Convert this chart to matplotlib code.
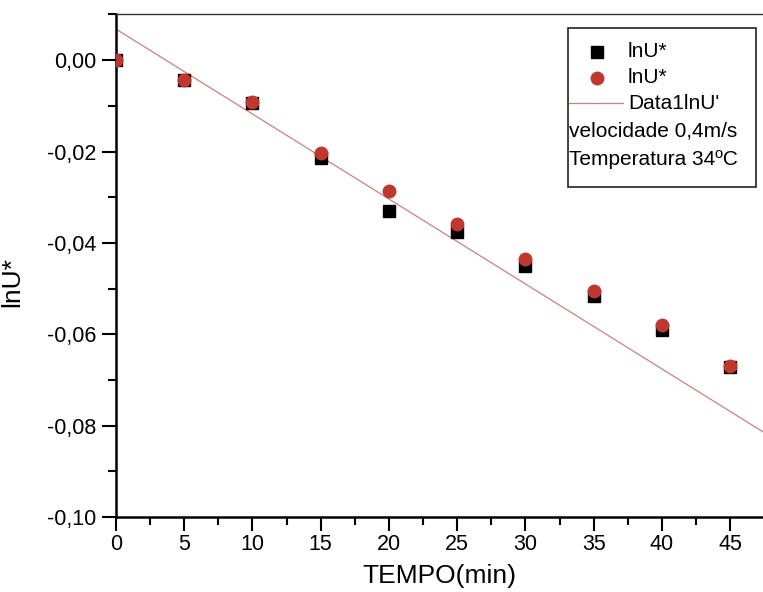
import matplotlib
matplotlib.use("Agg")
import matplotlib.pyplot as plt
import numpy as np
from matplotlib.ticker import MultipleLocator, FuncFormatter
from matplotlib.patches import Rectangle

plt.rcParams['font.family'] = ['Liberation Sans', 'DejaVu Sans']

# Drying data: time (min) and lnU* for the two runs
tempo = [0, 5, 10, 15, 20, 25, 30, 35, 40, 45]
lnu_run1 = [0.0, -0.0044, -0.0094, -0.0214, -0.0330, -0.0376, -0.0451, -0.0516, -0.0590, -0.0672]
lnu_run2 = [0.0, -0.0044, -0.0092, -0.0204, -0.0287, -0.0359, -0.0435, -0.0506, -0.0580, -0.0670]

# Linear fit "Data1lnU'"
fit_intercept = 0.0068
fit_slope = -0.00186

legend_labels = ["lnU*", "lnU*", "Data1lnU'"]
info_lines = ["velocidade 0,4m/s", "Temperatura 34ºC"]

x_max = 47.4
y_min, y_max = -0.10, 0.0101

RED = '#c0372e'
LINE_RED = '#cf8078'

sq_style = dict(marker='s', color='black', markersize=8, linestyle='none')
ci_style = dict(marker='o', color=RED, markersize=9, linestyle='none')
ln_style = dict(color=LINE_RED, linewidth=0.9)

fig = plt.figure(figsize=(7.63, 5.92), dpi=100)
ax = fig.add_axes([116 / 763, 75 / 592, 647 / 763, 503 / 592])

xf = np.array([0, x_max])
ax.plot(xf, fit_intercept + fit_slope * xf, **ln_style, zorder=2)
ax.plot(tempo, lnu_run1, **sq_style, zorder=3)
ax.plot(tempo, lnu_run2, **ci_style, zorder=4)

ax.set_xlim(0, x_max)
ax.set_ylim(y_min, y_max)

ax.xaxis.set_major_locator(MultipleLocator(5))
ax.xaxis.set_minor_locator(MultipleLocator(2.5))
ax.yaxis.set_major_locator(MultipleLocator(0.02))
ax.yaxis.set_minor_locator(MultipleLocator(0.01))
ax.yaxis.set_major_formatter(FuncFormatter(lambda v, p: f"{v:.2f}".replace('.', ',').replace('-0,00', '0,00')))

ax.tick_params(which='major', direction='out', length=10, width=1.5, labelsize=15.5, top=False, right=False)
ax.tick_params(which='minor', direction='out', length=6, width=1.5, top=False, right=False)
ax.tick_params(axis='y', which='major', pad=4)
ax.tick_params(axis='x', which='major', pad=2)

for s in ['left', 'bottom']:
    ax.spines[s].set_linewidth(1.8)
ax.spines['top'].set_linewidth(1.0)
ax.spines['top'].set_color('#333333')
ax.spines['right'].set_visible(False)

ax.set_xlabel("TEMPO(min)", fontsize=19, labelpad=7)
ax.set_ylabel("lnU*", fontsize=19)
ax.yaxis.set_label_coords(-0.142, 0.467)

# Legend box with the two condition notes
T = ax.transAxes
ax.add_patch(Rectangle((0.699, 0.656), 0.290, 0.316, transform=T, fill=False,
                       edgecolor='#222222', linewidth=1.2, clip_on=False, zorder=5))
ax.plot([0.743], [0.9245], transform=T, clip_on=False, zorder=6, **sq_style)
ax.plot([0.743], [0.873], transform=T, clip_on=False, zorder=6, **ci_style)
ax.plot([0.700, 0.784], [0.823, 0.823], transform=T, clip_on=False, zorder=6, **ln_style)
for yy, lab in zip([0.9245, 0.873, 0.823], legend_labels):
    ax.text(0.791, yy, lab, transform=T, fontsize=15, va='center', ha='left', zorder=6)
for yy, lab in zip([0.767, 0.710], info_lines):
    ax.text(0.700, yy, lab, transform=T, fontsize=15, va='center', ha='left', zorder=6)

fig.savefig("out.png", dpi=100)
